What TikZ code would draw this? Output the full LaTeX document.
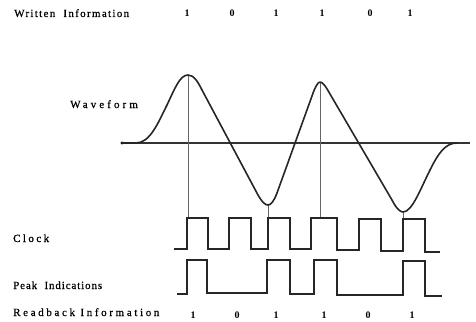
\documentclass[tikz,border=0pt]{standalone}
\usepackage{fontspec}
\setmainfont{Liberation Serif}
\newfontfamily\lblfont[FakeBold=0.6]{Liberation Serif}
\newfontfamily\ckfont[LetterSpace=22,FakeBold=1.2]{Liberation Serif}
\begin{document}
\begin{tikzpicture}[x=1pt,y=-1pt,
  lbl/.style={anchor=base west,inner sep=0pt},
  ls/.style={font=\fontsize{11}{12}\lblfont\addfontfeatures{LetterSpace=#1}},
  dig/.style={anchor=base,inner sep=0pt,font=\fontsize{10}{10}\bfseries},
  wave/.style={line width=1.6pt,line join=round,line cap=round,black!85},
  axis/.style={line width=1.4pt,black!80},
  pulse/.style={line width=1.3pt,black!85,line join=miter},
  guide/.style={line width=0.6pt,black!60}]
\useasboundingbox (0,0) rectangle (476,321);
% labels
\node[lbl,ls=12] (wi) at (14,17) {Written\ \ Information};
\node[lbl,ls=28] (wf) at (70,108) {Waveform};
\node[lbl,font=\fontsize{11}{12}\ckfont] (ck) at (13,242) {Clock};
\node[lbl,ls=8] (pi) at (13,289) {Peak\ \ Indications};
\node[lbl,ls=24] (ri) at (13,316) {Readback\ Information};
% written digits
\foreach \x/\d [count=\i] in {187/1,232/0,276/1,322/1,370/0,410/1}
  \node[dig] (w\i) at (\x,17) {\d};
% readback digits
\foreach \x/\d [count=\i] in {193/1,237/0,276/1,324/1,368/0,412/1}
  \node[dig] (r\i) at (\x,318) {\d};
% axis
\coordinate (a0) at (122,143);
\coordinate (a1) at (470,143);
\draw[axis] (a0) -- (a1);
\fill (a0) circle (1.6);
% named points
\coordinate (p1) at (188,75);
\coordinate (t1) at (268,205);
\coordinate (p2) at (320,82);
\coordinate (t2) at (403,212);
% guide lines
\draw[guide] (p1) -- (188,218);
\draw[guide] (t1) -- (268,218);
\draw[guide] (p2) -- (320,218);
\draw[guide] (t2) -- (403,219);
% waveform
\draw[wave] (a0) -- (136,143)
  .. controls (150,143) and (158,123) .. (167,105)
  .. controls (175,88) and (180,75) .. (p1)
  .. controls (194,75) and (198,82) .. (202,90)
  -- (258,195)
  .. controls (262,202) and (265,205) .. (t1)
  .. controls (271,205) and (274,201) .. (277,193)
  -- (312,96)
  .. controls (315,87) and (318,82) .. (p2)
  .. controls (323,82) and (326,87) .. (330,94)
  -- (392,200)
  .. controls (396,208) and (400,212) .. (t2)
  .. controls (412,212) and (420,190) .. (430,170)
  .. controls (438,154) and (445,143) .. (457,143);
% clock
\draw[pulse] (174,249) -- (187,249) -- (187,218) -- (208,218) -- (208,249)
  -- (229,249) -- (229,218) -- (251,218) -- (251,249)
  -- (268,249) -- (268,218) -- (290,218) -- (290,249)
  -- (311,249) -- (311,218) -- (337,218) -- (337,250)
  -- (359,250) -- (359,219) -- (381,219) -- (381,251)
  -- (403,251) -- (403,219) -- (425,219) -- (425,252) -- (440,252);
% peak indications
\draw[pulse] (177,294) -- (187,294) -- (187,260) -- (207,260) -- (207,293)
  -- (267,293) -- (267,260) -- (290,260) -- (290,294)
  -- (314,294) -- (314,260) -- (337,260) -- (337,295)
  -- (403,295) -- (403,261) -- (425,261) -- (425,296) -- (442,296);
\end{tikzpicture}
\end{document}
